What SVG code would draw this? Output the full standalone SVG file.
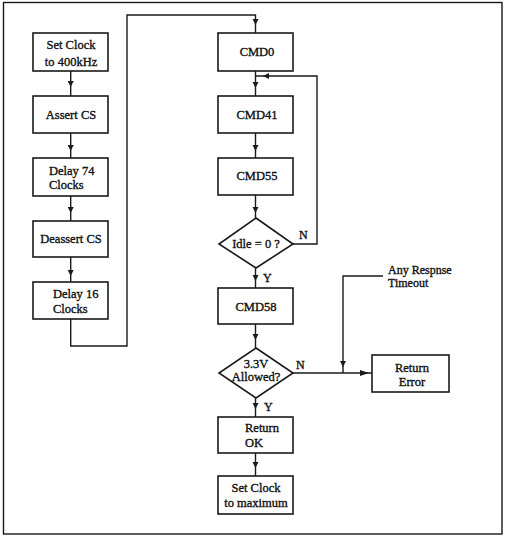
<svg xmlns="http://www.w3.org/2000/svg" width="508" height="536" viewBox="0 0 508 536">
<defs>
<style>
.box{fill:#fff;stroke:#1a1a1a;stroke-width:1.6}
.ln{fill:none;stroke:#1a1a1a;stroke-width:1.4}
.ar{fill:none;stroke:none}
.t,.tl,.lab{font-family:"Liberation Serif","Times New Roman",serif;font-size:12.5px;fill:#111;stroke:#111;stroke-width:0.35}
.t{text-anchor:middle}
.lab{font-size:12px}
</style>
<marker id="ah" markerUnits="userSpaceOnUse" markerWidth="8" markerHeight="8" refX="6" refY="3" orient="auto">
<path d="M0,0 L6,3 L0,6 z" fill="#1a1a1a"/>
</marker>
<marker id="ahb" markerUnits="userSpaceOnUse" markerWidth="10" markerHeight="8" refX="9" refY="3" orient="auto">
<path d="M0,0 L9,3 L0,6 z" fill="#1a1a1a"/>
</marker>
</defs>
<rect x="3.5" y="2.5" width="498.5" height="531.5" fill="#fff" stroke="#1a1a1a" stroke-width="1.4"/>

<g id="connectors">
<path class="ln" d="M70.7,71 V96"/>
<path class="ln" d="M70.7,133 V158"/>
<path class="ln" d="M70.7,196 V221"/>
<path class="ln" d="M70.7,257 V282"/>
<path class="ln" d="M70.7,319 V346 H127 V15 H255.5 V33"/>
<path class="ln" d="M255.5,71 V96"/>
<path class="ln" d="M255.5,133 V158"/>
<path class="ln" d="M255.5,195 V218"/>
<path class="ln" d="M293,244 H317 V76 H255.5"/>
<path class="ln" d="M255.5,268 V288"/>
<path class="ln" d="M255.5,324 V348"/>
<path class="ln" d="M293,373 H372"/>
<path class="ln" d="M383,276 H343 V373"/>
<path class="ln" d="M255.5,398 V417"/>
<path class="ln" d="M255.5,453 V476"/>
<path class="ar" d="M70.7,80 V87" marker-end="url(#ah)"/>
<path class="ar" d="M70.7,143 V151" marker-end="url(#ah)"/>
<path class="ar" d="M70.7,205 V213" marker-end="url(#ah)"/>
<path class="ar" d="M70.7,268 V276" marker-end="url(#ah)"/>
<path class="ar" d="M255.5,16 V25" marker-end="url(#ah)"/>
<path class="ar" d="M255.5,80 V88" marker-end="url(#ah)"/>
<path class="ar" d="M255.5,143 V151" marker-end="url(#ah)"/>
<path class="ar" d="M255.5,205 V213" marker-end="url(#ah)"/>
<path class="ar" d="M275,76 H263" marker-end="url(#ah)"/>
<path class="ar" d="M255.5,272 V281" marker-end="url(#ah)"/>
<path class="ar" d="M255.5,332 V340" marker-end="url(#ah)"/>
<path class="ar" d="M355,373 H369" marker-end="url(#ahb)"/>
<path class="ar" d="M343,358 V367" marker-end="url(#ah)"/>
<path class="ar" d="M255.5,401 V409" marker-end="url(#ah)"/>
<path class="ar" d="M255.5,460 V468" marker-end="url(#ah)"/>
</g>

<g id="set-clock-400">
<rect class="box" x="33" y="33" width="75" height="38"/>
<text class="t" x="71" y="49">Set Clock</text>
<text class="t" x="71" y="66">to 400kHz</text>
</g>
<g id="assert-cs">
<rect class="box" x="33" y="96" width="75" height="37"/>
<text class="t" x="71" y="119">Assert CS</text>
</g>
<g id="delay-74">
<rect class="box" x="33" y="158" width="75" height="38"/>
<text class="tl" x="49" y="175">Delay 74</text>
<text class="tl" x="49" y="189">Clocks</text>
</g>
<g id="deassert-cs">
<rect class="box" x="33" y="221" width="75" height="36"/>
<text class="t" x="71" y="243">Deassert CS</text>
</g>
<g id="delay-16">
<rect class="box" x="33" y="282" width="75" height="37"/>
<text class="tl" x="53" y="298">Delay 16</text>
<text class="tl" x="53" y="313">Clocks</text>
</g>

<g id="cmd0">
<rect class="box" x="218" y="33" width="75" height="38"/>
<text class="t" x="257" y="56">CMD0</text>
</g>
<g id="cmd41">
<rect class="box" x="218" y="96" width="75" height="37"/>
<text class="t" x="257" y="119">CMD41</text>
</g>
<g id="cmd55">
<rect class="box" x="218" y="158" width="75" height="37"/>
<text class="t" x="257" y="180">CMD55</text>
</g>
<g id="idle-check">
<path class="box" d="M256,218 L293,244 L256,268 L219,244 Z"/>
<text class="t" x="256" y="248">Idle = 0 ?</text>
</g>
<text class="lab" x="299" y="239">N</text>
<text class="lab" x="263" y="282">Y</text>
<g id="cmd58">
<rect class="box" x="218" y="288" width="75" height="36"/>
<text class="t" x="256" y="311">CMD58</text>
</g>
<g id="v33-check">
<path class="box" d="M256,348 L293,373 L256,398 L219,373 Z"/>
<text class="t" x="256" y="368">3.3V</text>
<text class="t" x="256" y="381">Allowed?</text>
</g>
<text class="lab" x="296" y="369">N</text>
<text class="lab" x="264" y="411">Y</text>
<g id="return-error">
<rect class="box" x="372" y="355" width="77" height="37"/>
<text class="t" x="412" y="372">Return</text>
<text class="t" x="412" y="386">Error</text>
</g>
<g id="any-response-label">
<text class="lab" x="388" y="274">Any Respnse</text>
<text class="lab" x="388" y="287">Timeout</text>
</g>
<g id="return-ok">
<rect class="box" x="218" y="417" width="75" height="36"/>
<text class="tl" x="245" y="432">Return</text>
<text class="tl" x="245" y="447">OK</text>
</g>
<g id="set-clock-max">
<rect class="box" x="218" y="476" width="75" height="38"/>
<text class="t" x="256" y="492">Set Clock</text>
<text class="t" x="256" y="507">to maximum</text>
</g>
</svg>
